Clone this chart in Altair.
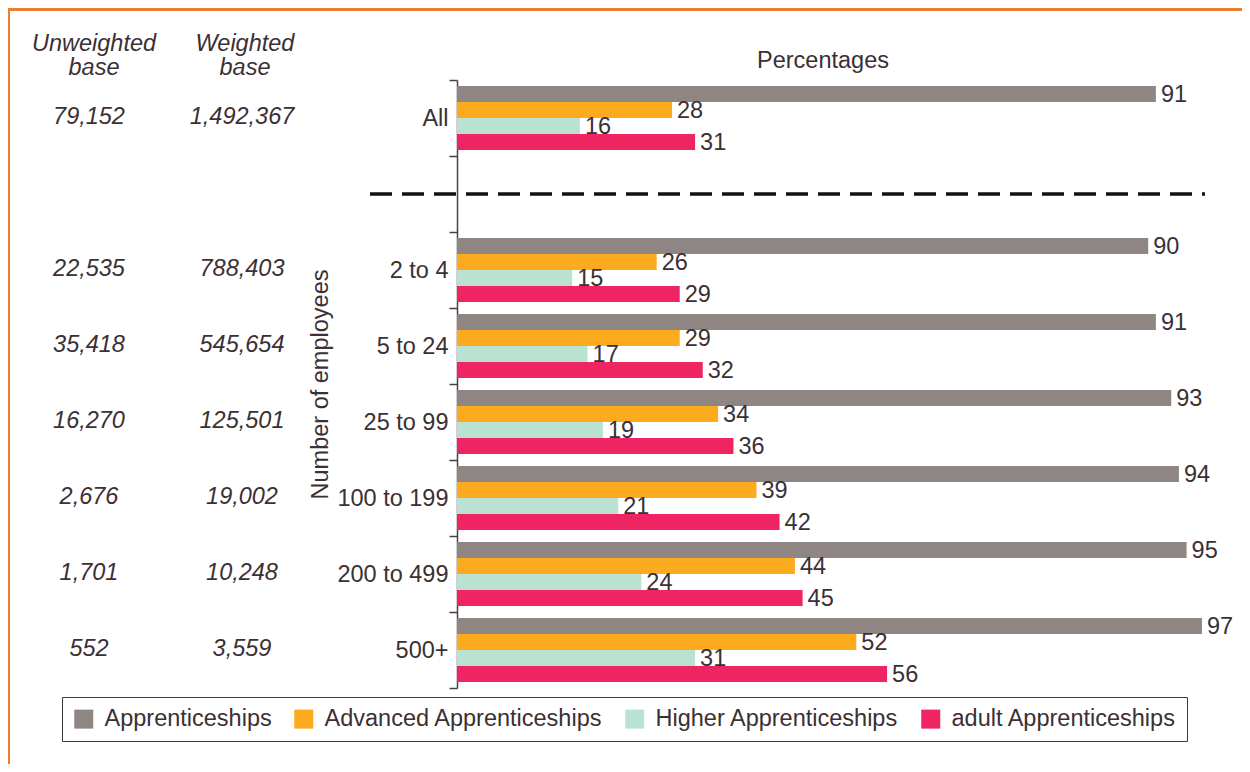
import altair as alt
import pandas as pd

categories = ["All", "2 to 4", "5 to 24", "25 to 99", "100 to 199", "200 to 499", "500+"]
series = ["Apprenticeships", "Advanced Apprenticeships", "Higher Apprenticeships", "adult Apprenticeships"]
apprenticeships = [91, 90, 91, 93, 94, 95, 97]
advanced = [28, 26, 29, 34, 39, 44, 52]
higher = [16, 15, 17, 19, 21, 24, 31]
adult = [31, 29, 32, 36, 42, 45, 56]
unweighted_base = ["79,152", "22,535", "35,418", "16,270", "2,676", "1,701", "552"]
weighted_base = ["1,492,367", "788,403", "545,654", "125,501", "19,002", "10,248", "3,559"]

colors = ["#8F8683", "#FBAB1D", "#BAE2D3", "#EF2462"]
TEXT = "#3B3034"
FONT = "Liberation Sans"
FS = 23.5

y_domain = ["All", " "] + categories[1:]

rows = []
for i, c in enumerate(categories):
    for s, vals in zip(series, [apprenticeships, advanced, higher, adult]):
        rows.append({"cat": c, "series": s, "value": vals[i]})
df = pd.DataFrame(rows)
tbl = pd.DataFrame({"cat": categories, "unw": unweighted_base, "wt": weighted_base})

yscale = alt.Scale(domain=y_domain, paddingInner=0, paddingOuter=0)
y_enc = alt.Y("cat:N", scale=yscale, sort=y_domain,
              axis=alt.Axis(title="Number of employees", tickBand="extent", tickSize=8,
                            labelPadding=1, labelFontSize=FS, titleFontSize=FS,
                            titleFontWeight="normal", labelColor=TEXT, titleColor=TEXT,
                            domainColor="#4A4043", tickColor="#4A4043", domainWidth=1.5,
                            tickWidth=1.5, titlePadding=4, labelFont=FONT, titleFont=FONT))
y_plain = alt.Y("cat:N", scale=yscale, sort=y_domain)
yoff = alt.YOffset("series:N", sort=series, scale=alt.Scale(domain=series, paddingInner=0, paddingOuter=0.375))
xscale = alt.Scale(domain=[0, 100], nice=False, zero=True)

base = alt.Chart(df)
bars = base.mark_bar(cornerRadius=0).encode(
    x=alt.X("value:Q", scale=xscale, axis=None),
    y=y_enc,
    yOffset=yoff,
    color=alt.Color("series:N", sort=series,
                    scale=alt.Scale(domain=series, range=colors),
                    legend=alt.Legend(orient="none", legendX=-395, legendY=617,
                                      direction="horizontal", title=None, symbolType="square",
                                      symbolSize=361, symbolStrokeWidth=0, labelFontSize=FS,
                                      labelColor=TEXT, labelFont=FONT, labelLimit=0,
                                      strokeColor="#3A3A3A", padding=10,
                                      columnPadding=20, labelOffset=9, symbolOpacity=1)),
)
labels = base.mark_text(align="left", baseline="middle", dx=5, dy=1, fontSize=FS, color=TEXT, font=FONT).encode(
    x=alt.X("value:Q", scale=xscale, axis=None),
    y=y_plain,
    yOffset=yoff,
    text=alt.Text("value:Q"),
)
unw_txt = alt.Chart(tbl).mark_text(align="center", baseline="middle", fontSize=FS, fontStyle="italic",
                                    color=TEXT, font=FONT, dy=-1).encode(
    y=y_plain, x=alt.value(-368), text="unw:N")
wt_txt = alt.Chart(tbl).mark_text(align="center", baseline="middle", fontSize=FS, fontStyle="italic",
                                   color=TEXT, font=FONT, dy=-1).encode(
    y=y_plain, x=alt.value(-215), text="wt:N")

def header(text, xp, yp, italic=True):
    return alt.Chart(pd.DataFrame({"t": [text]})).mark_text(
        align="center", baseline="alphabetic", fontSize=FS, fontStyle="italic" if italic else "normal",
        color=TEXT, font=FONT
    ).encode(text="t:N", x=alt.value(xp), y=alt.value(yp))

headers = (header("Unweighted", -363, -29) + header("base", -363, -5)
           + header("Weighted", -212, -29) + header("base", -212, -5))
pct_title = header("Percentages", 366, -12, italic=False)

sep = alt.Chart(pd.DataFrame({"cat": [" "]})).mark_rule(strokeDash=[22, 10], strokeWidth=3.5, color="#111111").encode(
    y=y_plain, x=alt.value(-87), x2=alt.value(748))

border_top = alt.Chart(pd.DataFrame({"a": [0]})).mark_rule(color="#F07B32", strokeWidth=3).encode(
    x=alt.value(-449), x2=alt.value(800), y=alt.value(-70.5))
border_left = alt.Chart(pd.DataFrame({"a": [0]})).mark_rule(color="#F07B32", strokeWidth=3).encode(
    x=alt.value(-448.5), y=alt.value(-72), y2=alt.value(700))

chart = alt.layer(bars, labels, unw_txt, wt_txt, headers, pct_title, sep, border_top, border_left).properties(
    width=768, height=608,
    autosize=alt.AutoSizeParams(type="none"),
    padding={"left": 449, "top": 72, "right": 17, "bottom": 76},
).configure(font=FONT, view=alt.ViewConfig(stroke=None))

chart.save("out.html", embed_options={"renderer": "svg", "actions": False})
